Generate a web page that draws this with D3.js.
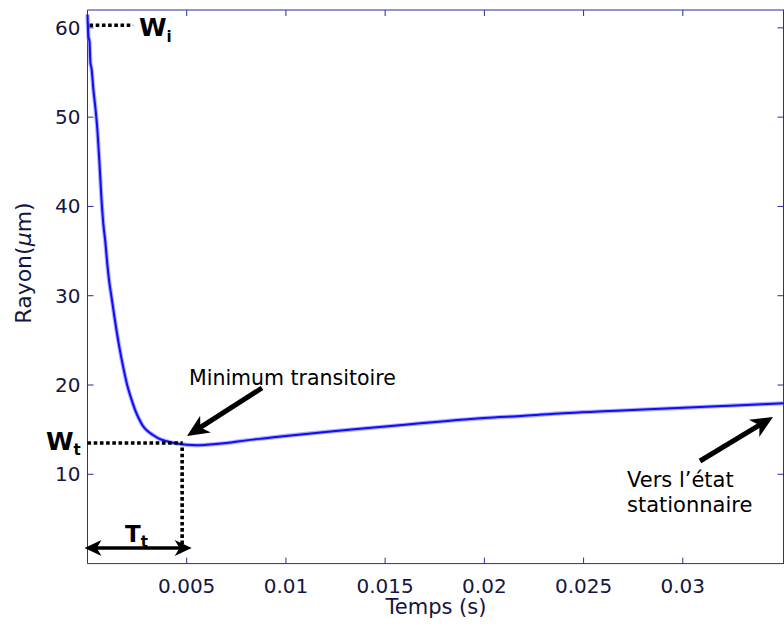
<!DOCTYPE html>
<html><head><meta charset="utf-8">
<script src="https://cdn.jsdelivr.net/npm/d3@7"></script>
<style>
html,body{margin:0;padding:0;background:#fff;}
svg{display:block;}
text{font-family:"Comic Sans MS","DejaVu Sans",sans-serif;}
</style></head>
<body>
<script>
// ---- data ----
const timeS = [0,0.00005,0.0001,0.00015,0.0002,0.0003,0.0004,0.0005,0.0006,0.0007,0.0008,0.0009,0.001,0.0011,0.0012,0.0014,0.0016,0.0018,0.002,0.0022,0.0024,0.0026,0.0028,0.003,0.0033,0.0036,0.004,0.0045,0.005,0.0055,0.006,0.007,0.008,0.009,0.01,0.012,0.014,0.016,0.018,0.02,0.022,0.024,0.026,0.028,0.03,0.032,0.034,0.0351];
const rayonUm = [61.5,59,58.5,56,55.5,53,51,48.5,45,41,38,36,33.5,31.5,30,27,24.3,22,20,18.5,17.2,16.2,15.4,14.9,14.4,14.0,13.7,13.45,13.3,13.25,13.3,13.5,13.8,14.05,14.3,14.75,15.15,15.55,15.95,16.3,16.55,16.85,17.05,17.25,17.45,17.65,17.85,17.95];
const xTicks = [0.005,0.01,0.015,0.02,0.025,0.03];
const xTickLabels = ["0.005","0.01","0.015","0.02","0.025","0.03"];
const yTicks = [10,20,30,40,50,60];
const yTickLabels = ["10","20","30","40","50","60"];

const W = 784, H = 626;
const svg = d3.select("body").append("svg").attr("width", W).attr("height", H);

const x = d3.scaleLinear().domain([0, 0.0351]).range([87.5, 784]);
const y = d3.scaleLinear().domain([0, 62]).range([563.6, 10]);

const axisCol = "#2b2b9a", txtCol = "#151540";
const x0 = x.range()[0], x1 = 783.5, yb = y.range()[0], yt = y.range()[1];

// frame
const frame = svg.append("g").attr("stroke", axisCol).attr("stroke-width", 1).attr("fill","none");
frame.append("line").attr("x1", x0).attr("x2", x0).attr("y1", yt).attr("y2", yb);
frame.append("line").attr("x1", x0).attr("x2", x1+1).attr("y1", yb).attr("y2", yb);
frame.append("line").attr("x1", x0).attr("x2", x1+1).attr("y1", yt).attr("y2", yt);
frame.append("line").attr("x1", x1).attr("x2", x1).attr("y1", yt).attr("y2", yb);

// ticks
const tl = 6;
xTicks.forEach(v => {
  frame.append("line").attr("x1", x(v)).attr("x2", x(v)).attr("y1", yb).attr("y2", yb - tl);
  frame.append("line").attr("x1", x(v)).attr("x2", x(v)).attr("y1", yt).attr("y2", yt + tl);
});
yTicks.forEach(v => {
  frame.append("line").attr("x1", x0).attr("x2", x0 + tl).attr("y1", y(v)).attr("y2", y(v));
  frame.append("line").attr("x1", x1).attr("x2", x1 - tl).attr("y1", y(v)).attr("y2", y(v));
});

// tick labels
const fs = 20;
svg.append("g").selectAll("text").data(xTicks).join("text")
  .attr("x", d => x(d)).attr("y", yb + 29.5).attr("text-anchor","middle")
  .attr("font-size", fs).attr("fill", txtCol).text((d,i) => xTickLabels[i]);
svg.append("g").selectAll("text").data(yTicks).join("text")
  .attr("x", x0 - 7).attr("y", d => y(d) + 7).attr("text-anchor","end")
  .attr("font-size", fs).attr("fill", txtCol).text((d,i) => yTickLabels[i]);

// axis titles
svg.append("text").attr("x", 436).attr("y", 614).attr("text-anchor","middle")
  .attr("font-size", 21).attr("fill", txtCol).text("Temps (s)");
const yl = svg.append("text").attr("transform","translate(31,263) rotate(-90)")
  .attr("text-anchor","middle").attr("font-size", 22).attr("fill", txtCol);
yl.append("tspan").text("Rayon(");
yl.append("tspan").attr("font-style","italic").text("μ");
yl.append("tspan").text("m)");

// curve (halo for the measured noise band + core line)
const pts = timeS.map((t,i) => [t, rayonUm[i]]);
const line = d3.line().x(d => x(d[0])).y(d => y(d[1])).curve(d3.curveMonotoneX);
svg.append("path").datum(pts)
  .attr("fill","none").attr("stroke","#6a6aff").attr("stroke-opacity",0.55).attr("stroke-width", 4.2)
  .attr("stroke-linejoin","round").attr("d", line);
svg.append("path").datum(pts)
  .attr("fill","none").attr("stroke","#0e0ef0").attr("stroke-width", 2)
  .attr("stroke-linejoin","round").attr("d", line);

// annotations
const ann = svg.append("g");
const dot = {stroke:"#000", "stroke-width":3.6, "stroke-dasharray":"3.6,2.6", fill:"none"};
function dl(xa,ya,xb,yb2){
  const l = ann.append("line").attr("x1",xa).attr("y1",ya).attr("x2",xb).attr("y2",yb2);
  Object.entries(dot).forEach(([k,v]) => l.attr(k,v));
}
// Wi
dl(x(0)+2, y(60.3), x(0.0023), y(60.3));
const wi = ann.append("text").attr("x", 139).attr("y", 36).attr("font-size", 25).attr("font-weight","bold").attr("fill","#000");
wi.append("tspan").text("W");
wi.append("tspan").attr("font-size", 15).attr("dy", 6).text("i");
// Wt
dl(x(0), y(13.5), x(0.0048), y(13.5));
dl(x(0.00477), y(13.0), x(0.00477), y(1.8));
const wt = ann.append("text").attr("x", 46).attr("y", 450).attr("font-size", 25).attr("font-weight","bold").attr("fill","#000");
wt.append("tspan").text("W");
wt.append("tspan").attr("font-size", 15).attr("dy", 5).text("t");
// Tt double arrow
function head(tx,ty,ang,len,half){
  const c = Math.cos(ang), s = Math.sin(ang);
  const p = (a,b) => [tx + a*c - b*s, ty + a*s + b*c];
  const P = [p(0,0), p(-len,-half), p(-len*0.72,0), p(-len,half)];
  ann.append("path").attr("d","M"+P.map(q=>q.join(",")).join("L")+"Z").attr("fill","#000");
}
const ty = y(1.75);
ann.append("line").attr("x1", x(0)+4).attr("x2", x(0.0051)-4).attr("y1", ty).attr("y2", ty)
  .attr("stroke","#000").attr("stroke-width",3.6);
head(x(0)-3, ty, Math.PI, 17, 8);
head(x(0.0051)+3, ty, 0, 17, 8);
const tt = ann.append("text").attr("x", 125).attr("y", 542).attr("font-size", 23).attr("font-weight","bold").attr("fill","#000");
tt.append("tspan").text("T");
tt.append("tspan").attr("font-size", 15).attr("dy", 5).text("t");

// single arrows
function arrow(xa,ya,xb,yb2){
  const ang = Math.atan2(yb2-ya, xb-xa), len = 22;
  ann.append("line").attr("x1",xa).attr("y1",ya)
    .attr("x2", xb - Math.cos(ang)*len*0.7).attr("y2", yb2 - Math.sin(ang)*len*0.7)
    .attr("stroke","#000").attr("stroke-width",5);
  head(xb,yb2,ang,len,10);
}
arrow(262, 388, 187, 436);
ann.append("text").attr("x", 189).attr("y", 385).attr("font-size", 20.5).attr("fill","#000").text("Minimum transitoire");
arrow(700, 461, 773, 417);
ann.append("text").attr("x", 627).attr("y", 487).attr("font-size", 21).attr("fill","#000").text("Vers l’état");
ann.append("text").attr("x", 627).attr("y", 512).attr("font-size", 21).attr("fill","#000").text("stationnaire");
</script>
</body></html>
